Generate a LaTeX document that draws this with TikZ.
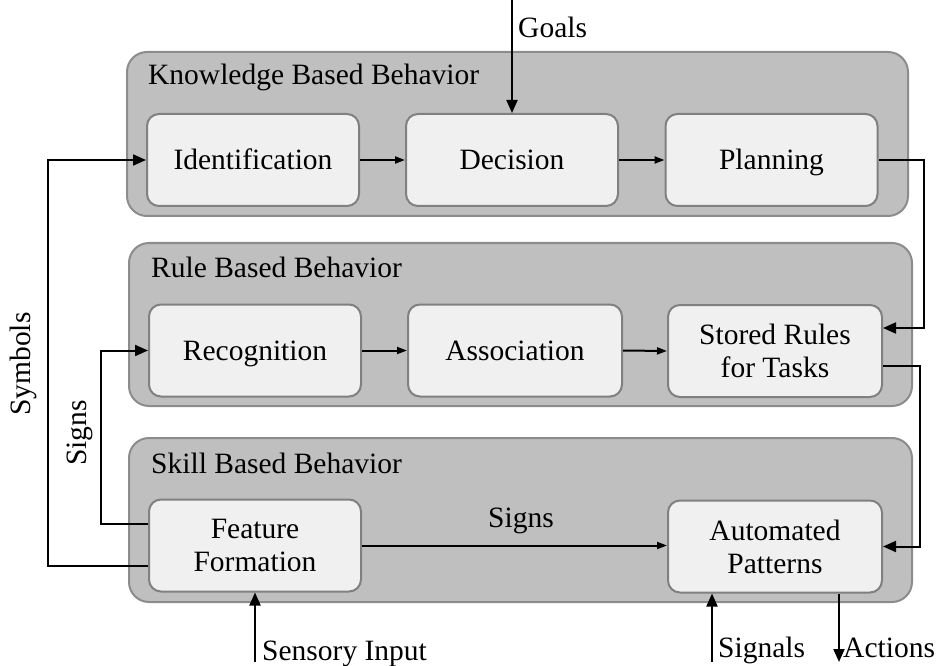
\documentclass[tikz,border=0pt]{standalone}
\usepackage{fontspec}
\setmainfont{Liberation Serif}
\usetikzlibrary{arrows.meta}

\definecolor{layerfill}{HTML}{BFBFBF}
\definecolor{layerline}{HTML}{8C8C8C}
\definecolor{boxfill}{HTML}{F0F0F0}
\definecolor{boxline}{HTML}{808080}

\begin{document}
\begin{tikzpicture}[x=1pt,y=-1pt,
  every node/.style={font=\fontsize{29.5}{33}\selectfont, inner sep=0pt},
  layer/.style={draw=layerline, fill=layerfill, line width=2pt, rounded corners=20pt},
  stage/.style={draw=boxline, fill=boxfill, line width=2pt, rounded corners=12pt,
                align=center, minimum width=212pt, minimum height=92pt},
  oneline/.style={text height=20pt, text depth=0pt},
  conn/.style={line width=2pt, -{Triangle[length=13pt,width=11pt]}},
  flow/.style={line width=2pt, -{Triangle[length=10pt,width=7pt]}},
  tag/.style={anchor=base west},
  title/.style={anchor=base west}]

\useasboundingbox (0,0) rectangle (938,666);

% behaviour layers
\draw[layer] (127,52) rectangle (908,216);
\draw[layer] (129,243) rectangle (912,406);
\draw[layer] (129,438) rectangle (912,602);
\node[title] (kbb) at (148,85) {Knowledge Based Behavior};
\node[title] (rbb) at (151,277) {Rule Based Behavior};
\node[title] (sbb) at (151,473) {Skill Based Behavior};

% stages
\node[stage, oneline] (ident)    at (253,160)   {Identification};
\node[stage, oneline] (decision) at (512,160)   {Decision};
\node[stage, oneline] (planning) at (771.5,160) {Planning};
\node[stage, oneline] (recog)    at (255,350.5) {Recognition};
\node[stage, oneline, minimum width=214pt] (assoc) at (515,350.5) {Association};
\node[stage, minimum width=214pt] (stored) at (775,351)   {Stored Rules\\for Tasks};
\node[stage] (feature)   at (255,545.5) {Feature\\Formation};
\node[stage, minimum width=214pt] (auto)   at (775,546.5) {Automated\\Patterns};

% free ends of the connectors
\coordinate (goalsIn) at (512,0);
\coordinate (symX)    at (48,0);
\coordinate (signX)   at (101,0);
\coordinate (planX)   at (924,0);
\coordinate (ruleX)   at (920,0);
\coordinate (sensIn)  at (255,662);
\coordinate (sigIn)   at (712,662);
\coordinate (actOut)  at (839,662);

% knowledge level
\draw[conn] (goalsIn) -- (decision.north);
\node[tag] (goals) at (518,38) {Goals};
\draw[flow] (ident.east) -- (decision.west);
\draw[flow] (decision.east) -- (planning.west);
\draw[conn] (planning.east) -| (planX |- 0,300) |- ([yshift=23pt]stored.east);

% rule level
\draw[flow] (recog.east) -- (assoc.west);
\draw[flow] (assoc.east) -- (stored.west);
\draw[conn] ([yshift=-15pt]stored.east) -| (ruleX |- 0,450) |- (auto.east);

% skill level
\draw[conn] ([yshift=-20.5pt]feature.west) -| (symX |- ident.west) -- (ident.west);
\draw[conn] ([yshift=21.5pt]feature.west) -| (signX |- recog.west) -- (recog.west);
\draw[flow] (feature.east) -- (feature.east -| auto.west);
\node[tag] (signsH) at (488,527) {Signs};

\node[rotate=90] (symbols) at (23,364) {Symbols};
\node[rotate=90] (signsV) at (80,433) {Signs};

% inputs and outputs
\draw[conn] (sensIn) -- (feature.south);
\node[tag] (sensory) at (262,660) {Sensory Input};
\draw[conn] (sigIn) -- (sigIn |- auto.south);
\node[tag] (signals) at (718,657) {Signals};
\draw[conn] (actOut |- auto.south) -- (actOut);
\node[tag] (actions) at (843,657) {Actions};

\end{tikzpicture}
\end{document}
